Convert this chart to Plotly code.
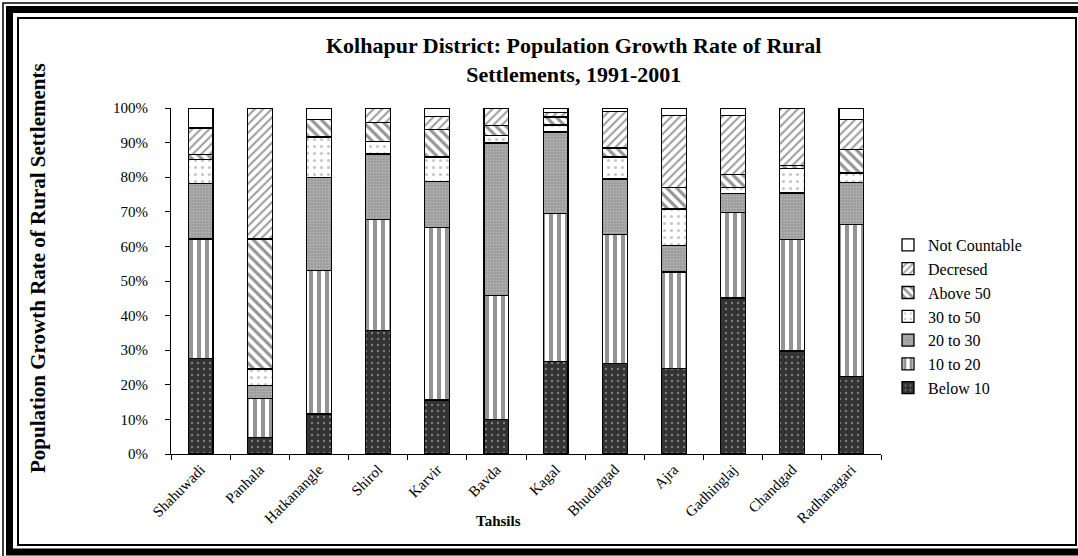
import plotly.graph_objects as go

tahsils = ["Shahuwadi", "Panhala", "Hatkanangle", "Shirol", "Karvir", "Bavda",
           "Kagal", "Bhudargad", "Ajra", "Gadhinglaj", "Chandgad", "Radhanagari"]
below10 = [27.7, 4.8, 11.6, 35.7, 15.6, 10.0, 26.7, 26.2, 24.7, 45.1, 29.8, 22.4]
t10_20 = [34.4, 11.3, 41.5, 32.0, 49.8, 35.9, 42.9, 37.3, 27.9, 24.7, 32.1, 44.0]
t20_30 = [16.0, 3.8, 26.9, 19.0, 13.4, 44.0, 23.5, 16.0, 7.6, 5.4, 13.5, 12.1]
t30_50 = [7.1, 4.7, 11.6, 3.7, 7.0, 2.2, 2.0, 6.3, 10.6, 1.9, 7.2, 2.7]
above50 = [1.3, 37.5, 5.0, 5.5, 7.9, 2.8, 2.3, 2.6, 6.3, 3.6, 0.7, 6.9]
decreased = [7.7, 37.9, 0.0, 4.1, 3.9, 5.1, 1.3, 10.6, 20.7, 17.1, 16.7, 8.5]
not_countable = [5.8, 0.0, 3.4, 0.0, 2.4, 0.0, 1.3, 1.0, 2.2, 2.2, 0.0, 3.4]

series_names = ["Below 10", "10 to 20", "20 to 30", "30 to 50", "Above 50", "Decresed", "Not Countable"]
series_values = [below10, t10_20, t20_30, t30_50, above50, decreased, not_countable]

patterns = [
    dict(shape=".", bgcolor="#333333", fgcolor="#c8c8c8", size=6, solidity=0.12),
    dict(shape="|", bgcolor="white", fgcolor="#2a2a2a", size=8, solidity=0.5),
    dict(shape=".", bgcolor="#9a9a9a", fgcolor="#d4d4d4", size=3, solidity=0.35),
    dict(shape=".", bgcolor="white", fgcolor="#8a8a8a", size=7, solidity=0.15),
    dict(shape="\\", bgcolor="white", fgcolor="#2a2a2a", size=7, solidity=0.45),
    dict(shape="/", bgcolor="white", fgcolor="#3a3a3a", size=6, solidity=0.35),
    dict(shape="", bgcolor="white", fgcolor="white", size=6, solidity=0.3),
]

FONT = "Liberation Serif, Times New Roman, serif"
W, H = 1078, 556
ML, MR, MT, MB = 171, 197, 108, 102
PW, PH = W - ML - MR, H - MT - MB


def px(x):
    return (x - ML) / PW


def py(y):
    return (H - MB - y) / PH


fig = go.Figure()
for name, vals, pat in zip(series_names, series_values, patterns):
    fig.add_trace(go.Bar(
        name=name, x=tahsils, y=vals,
        marker=dict(color="white", line=dict(color="black", width=1.3), pattern=pat),
    ))

shapes = [
    dict(type="rect", xref="paper", yref="paper", x0=px(3), y0=py(3), x1=px(1100), y1=py(580),
         line=dict(color="black", width=1.5)),
    dict(type="rect", xref="paper", yref="paper", x0=px(9.5), y0=py(9.5), x1=px(1100), y1=py(552),
         line=dict(color="black", width=7)),
    dict(type="rect", xref="paper", yref="paper", x0=px(18), y0=py(18), x1=px(1076), y1=py(545),
         line=dict(color="black", width=2)),
]

annotations = [
    dict(text="<b>Kolhapur District: Population Growth Rate of Rural<br>Settlements, 1991-2001</b>",
         xref="paper", yref="paper", x=px(573), y=py(60), xanchor="center", yanchor="middle",
         showarrow=False, font=dict(family=FONT, size=22, color="black")),
    dict(text="<b>Population Growth Rate of Rural Settlements</b>",
         xref="paper", yref="paper", x=px(38), y=py(268), xanchor="center", yanchor="middle",
         textangle=-90, showarrow=False, font=dict(family=FONT, size=21, color="black")),
    dict(text="<b>Tahsils</b>",
         xref="paper", yref="paper", x=px(498), y=py(521), xanchor="center", yanchor="middle",
         showarrow=False, font=dict(family=FONT, size=15, color="black")),
]

fig.update_layout(
    width=W, height=H,
    margin=dict(l=ML, r=MR, t=MT, b=MB, autoexpand=False),
    paper_bgcolor="white", plot_bgcolor="white",
    barmode="stack", bargap=0.58,
    font=dict(family=FONT, size=14, color="black"),
    shapes=shapes, annotations=annotations,
    legend=dict(x=px(888), y=py(228), xanchor="left", yanchor="top",
                traceorder="reversed", font=dict(family=FONT, size=16, color="black"),
                bgcolor="rgba(0,0,0,0)"),
    xaxis=dict(showline=True, linecolor="black", linewidth=1, ticks="outside",
               tickson="boundaries", ticklen=5, tickcolor="black", tickangle=-45,
               showgrid=False, tickfont=dict(family=FONT, size=15, color="black")),
    yaxis=dict(range=[0, 100], dtick=10, ticksuffix="%", showline=True, linecolor="black",
               linewidth=1, ticks="outside", ticklen=5, tickcolor="black", showgrid=False,
               zeroline=False, ticklabelstandoff=14,
               tickfont=dict(family=FONT, size=15, color="black")),
)

fig.write_html("out.html")
